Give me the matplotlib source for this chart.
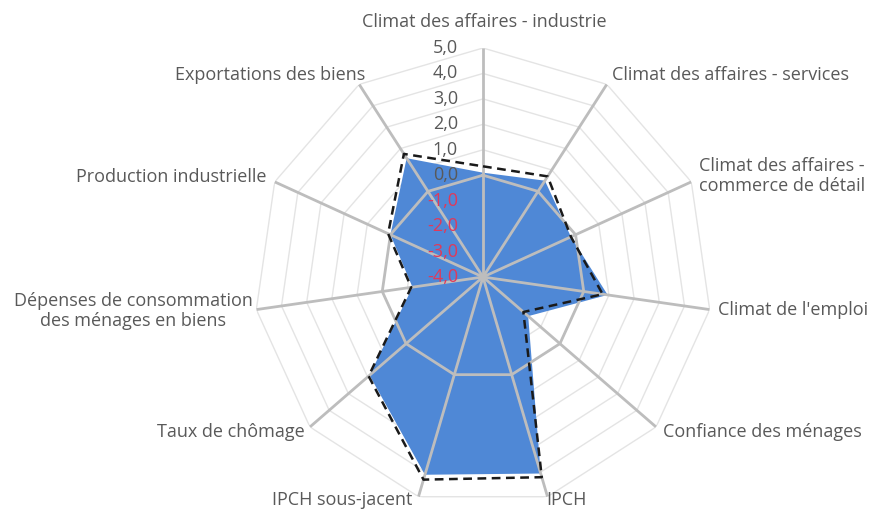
import numpy as np
import matplotlib
matplotlib.use("Agg")
import matplotlib.pyplot as plt
import matplotlib.transforms as mtransforms

plt.rcParams['font.family'] = ['Open Sans', 'DejaVu Sans']

categories = [
    "Climat des affaires - industrie",
    "Climat des affaires - services",
    "Climat des affaires -\ncommerce de détail",
    "Climat de l'emploi",
    "Confiance des ménages",
    "IPCH",
    "IPCH sous-jacent",
    "Taux de chômage",
    "Dépenses de consommation\ndes ménages en biens",
    "Production industrielle",
    "Exportations des biens",
]
current = [0.1, 0.5, -0.2, 0.95, -1.65, 4.05, 4.1, 1.9, -1.2, 0.0, 1.55]
previous = [0.35, 0.7, -0.2, 0.75, -1.9, 4.2, 4.3, 1.95, -1.15, 0.1, 1.75]
ticks = [5, 4, 3, 2, 1, 0, -1, -2, -3, -4]
tick_labels = ["5,0", "4,0", "3,0", "2,0", "1,0", "0,0", "-1,0", "-2,0", "-3,0", "-4,0"]
rmin, rmax = -4, 5

W, H = 870, 512
fig = plt.figure(figsize=(W / 100, H / 100), dpi=100)
cx, cy, R = 483, 277, 229
ax = fig.add_axes([(cx - R) / W, (H - cy - R) / H, 2 * R / W, 2 * R / H], projection='polar')
ax.set_theta_zero_location('N')
ax.set_theta_direction(-1)
ax.set_ylim(rmin, rmax)
ax.grid(False)
ax.spines['polar'].set_visible(False)
ax.set_xticks([])
ax.set_yticks([])
ax.patch.set_alpha(0)

n = len(categories)
ang = np.arange(n) * 2 * np.pi / n
angc = np.append(ang, ang[0])

# light grid rings
for v in range(rmin + 1, rmax + 1):
    ax.plot(angc, [v] * (n + 1), color='#E4E4E4', lw=1.0, zorder=1)

# data
cur = np.append(current, current[0])
prev = np.append(previous, previous[0])
ax.fill(angc, cur, color='#4F88D6', zorder=2, lw=0)

# spokes
for a in ang:
    ax.plot([a, a], [rmin, rmax], color='#BDBDBD', lw=2.0, zorder=3, solid_capstyle='butt')
# zero ring
ax.plot(angc, [0] * (n + 1), color='#BDBDBD', lw=2.0, zorder=3)

ax.plot(angc, prev, color='#1a1a1a', lw=1.8, ls=(0, (3.5, 2.2)), zorder=4)

# tick labels
off = mtransforms.offset_copy(ax.transData, fig=fig, x=-25, y=0, units='dots')
for t, lab in zip(ticks, tick_labels):
    col = '#E0395A' if t < 0 else '#595959'
    ax.text(0, t, lab, transform=off, ha='right', va='center', fontsize=13,
            color=col, zorder=6)

# category labels (pixel positions)
lab_pos = [
    (484, 22, 'center'),
    (612, 75, 'left'),
    (782, 176, 'center'),
    (718, 310, 'left'),
    (663, 432, 'left'),
    (566, 500, 'center'),
    (342, 500, 'center'),
    (305, 432, 'right'),
    (133, 311, 'center'),
    (267, 177, 'right'),
    (365, 75, 'right'),
]
for c, (x, y, ha) in zip(categories, lab_pos):
    fig.text(x / W, 1 - y / H, c, ha=ha, va='center', fontsize=13,
             color='#595959', linespacing=1.1)

fig.savefig('out.png', dpi=100, facecolor='white')
